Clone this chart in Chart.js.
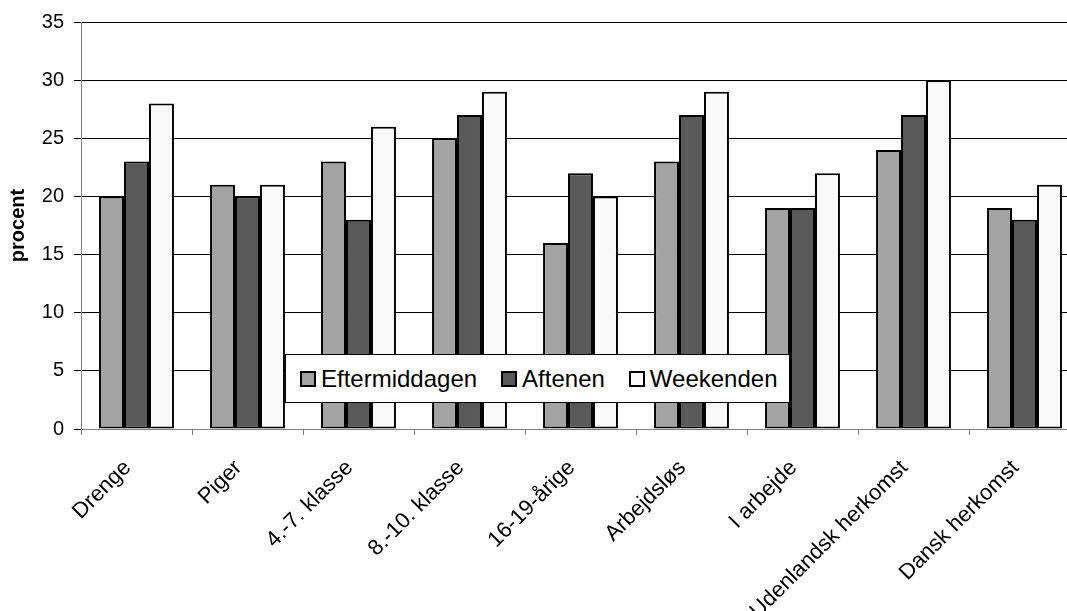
<!DOCTYPE html>
<html>
<head>
<meta charset="utf-8">
<script src="https://cdn.jsdelivr.net/npm/chart.js@4"></script>
<style>
  html, body { margin: 0; padding: 0; background: #fff; overflow: hidden; width: 1067px; height: 611px; }
  #wrap { position: relative; width: 1085px; height: 611px; }
  #legend {
    position: absolute; left: 285px; top: 354px; width: 505px; height: 49px;
    background: #fff; border: 1px solid #000; box-sizing: border-box;
    font-family: "Liberation Sans", Arial, sans-serif; font-size: 24px; color: #000;
    display: flex; align-items: center; padding-left: 14px; white-space: nowrap;
  }
  #legend .item { display: flex; align-items: center; margin-right: 24px; }
  #legend .box { width: 12px; height: 12px; border: 2px solid #000; margin-right: 5px; }
</style>
</head>
<body>
<div id="wrap">
  <canvas id="c"></canvas>
  <div id="legend"></div>
</div>
<script>
const categories = ["Drenge", "Piger", "4.-7. klasse", "8.-10. klasse", "16-19-årige", "Arbejdsløs", "I arbejde", "Udenlandsk herkomst", "Dansk herkomst"];
const seriesNames = ["Eftermiddagen", "Aftenen", "Weekenden"];
const eftermiddagen = [20, 21, 23, 25, 16, 23, 19, 24, 19];
const aftenen = [23, 20, 18, 27, 22, 27, 19, 27, 18];
const weekenden = [28, 21, 26, 29, 20, 29, 22, 30, 21];
const seriesColors = ["#a3a3a3", "#595959", "#f9f9f9"];
const yTitle = "procent";

const seriesValues = [eftermiddagen, aftenen, weekenden];
const datasets = seriesNames.map((name, i) => ({
  label: name,
  data: seriesValues[i],
  backgroundColor: seriesColors[i],
  borderColor: "#000",
  borderWidth: 2,
  borderSkipped: false,
  categoryPercentage: 0.675,
  barPercentage: 1.0
}));

const font = "'Liberation Sans', Arial, sans-serif";
const canvas = document.getElementById("c");
canvas.width = 1085; canvas.height = 611;

new Chart(canvas, {
  type: "bar",
  data: { labels: categories, datasets },
  options: {
    responsive: false,
    animation: false,
    devicePixelRatio: 1,
    layout: { padding: { top: 22, right: 5, left: 0, bottom: 0 } },
    plugins: { legend: { display: false }, tooltip: { enabled: false } },
    scales: {
      x: {
        grid: { display: true, drawOnChartArea: false, drawTicks: true, tickLength: 6, color: "#808080", offset: true },
        border: { display: true, color: "#808080", width: 1 },
        ticks: { color: "#000", font: { family: font, size: 22 }, maxRotation: 45, minRotation: 45, autoSkip: false, padding: 20, labelOffset: -9 },
        afterFit: (s) => { s.height = 182; }
      },
      y: {
        min: 0, max: 35,
        ticks: { stepSize: 5, color: "#000", font: { family: font, size: 20 }, padding: 10 },
        grid: { color: "#000", lineWidth: 1, tickLength: 7 },
        border: { display: true, color: "#808080", width: 1 },
        title: { display: true, text: yTitle, color: "#000", font: { family: font, size: 20, weight: "bold" }, padding: { top: 6, bottom: 0 } },
        afterFit: (s) => { s.width = 81; }
      }
    }
  }
});

const lg = document.getElementById("legend");
seriesNames.forEach((name, i) => {
  const it = document.createElement("div");
  it.className = "item";
  const b = document.createElement("span");
  b.className = "box";
  b.style.background = seriesColors[i];
  const t = document.createElement("span");
  t.textContent = name;
  it.appendChild(b); it.appendChild(t);
  lg.appendChild(it);
});
</script>
</body>
</html>
